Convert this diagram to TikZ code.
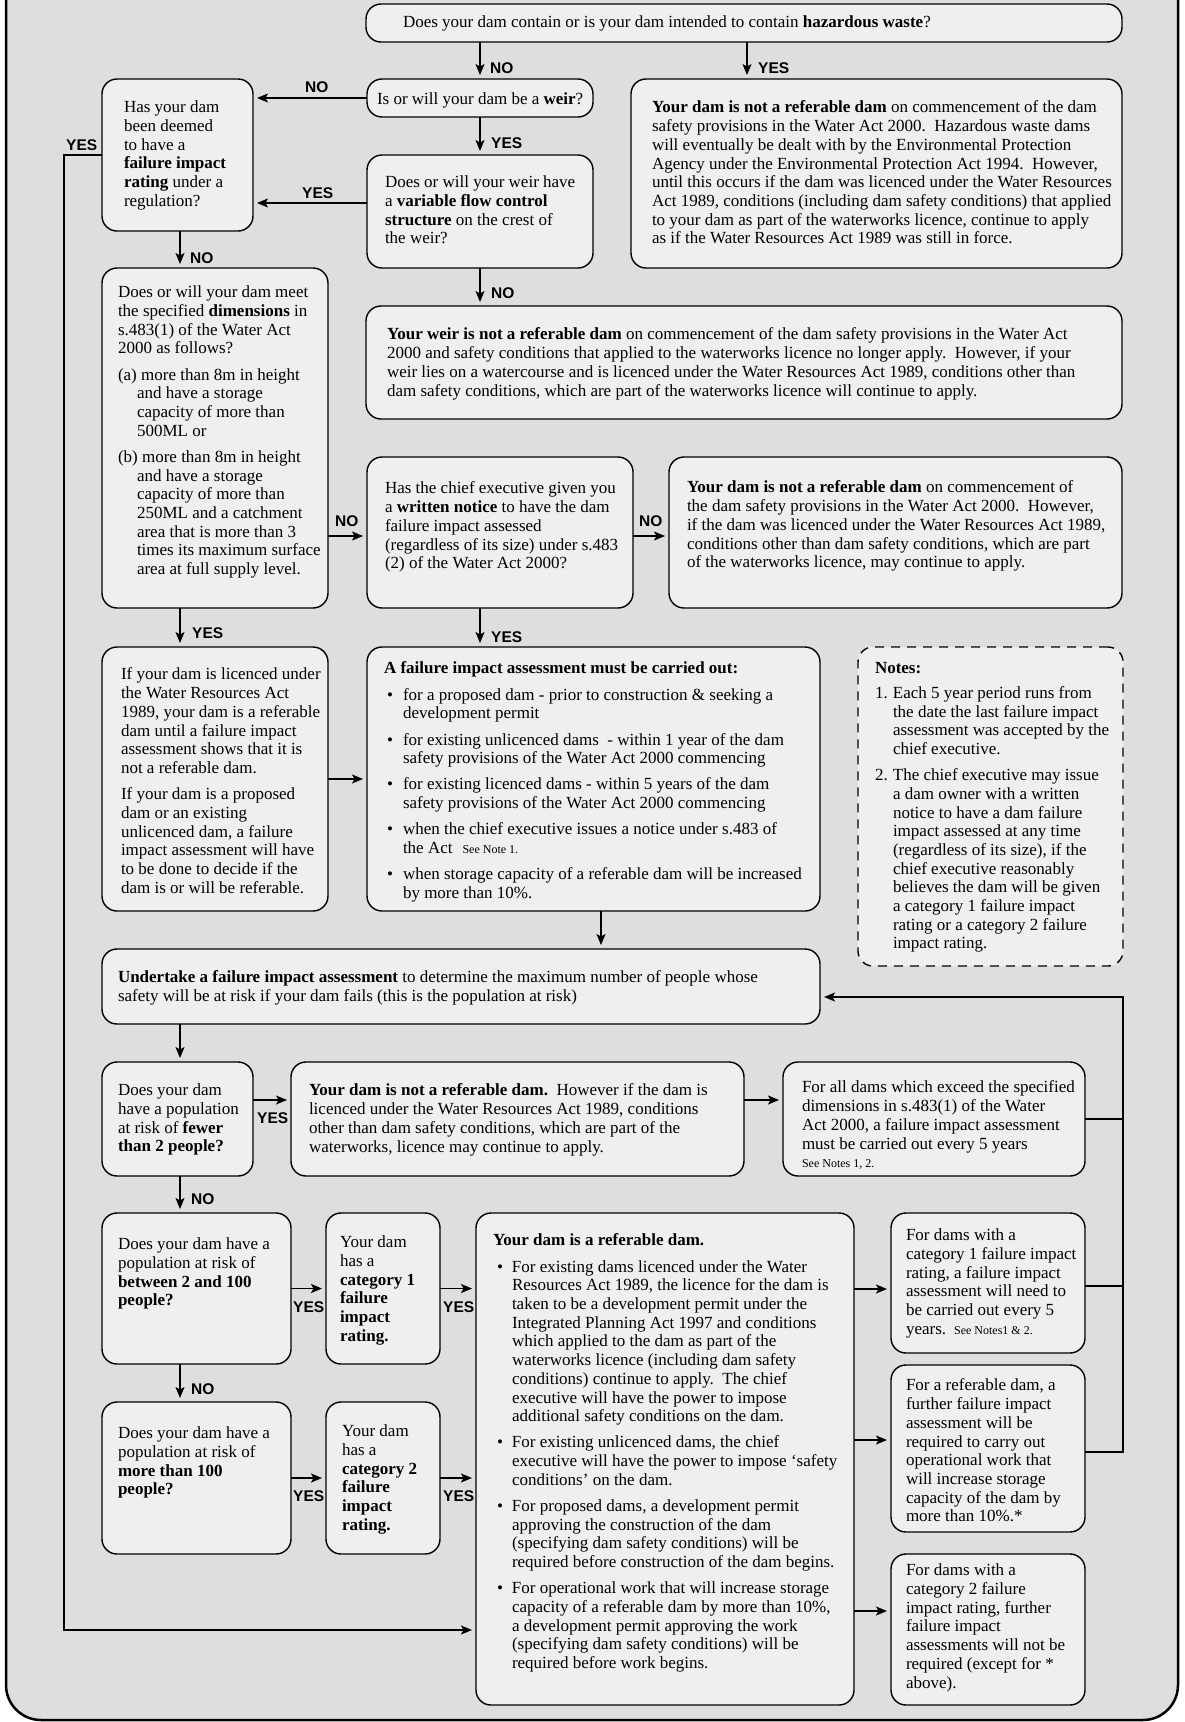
\documentclass[tikz,border=0pt]{standalone}
\usepackage{fontspec}
\setmainfont{Liberation Serif}
\newfontfamily\lblfont{Liberation Sans}
\usetikzlibrary{arrows.meta,calc}
\definecolor{bgray}{RGB}{222,222,222}
\definecolor{boxfill}{RGB}{239,239,239}
\tikzset{
  bx/.style={draw=black, line width=1.4pt, fill=boxfill, rounded corners=15pt, inner sep=0pt, outer sep=0pt},
  dbx/.style={bx, dash pattern=on 9pt off 7pt},
  txt/.style={anchor=north west, inner sep=0pt, outer sep=0pt, yshift=-2pt, align=left, font=\fontsize{17}{18.7}\selectfont},
  lbl/.style={anchor=west, inner sep=0pt, font=\lblfont\bfseries\fontsize{15.5}{16}\selectfont},
  arr/.style={line width=1.3pt, -{Stealth[length=11pt,width=9pt,inset=2.5pt]}, shorten >=4pt},
  ln/.style={line width=1.3pt},
}
\newcommand{\boxat}[6][bx]{\node[#1, minimum width={#5-#3}, minimum height={#6-#4}] (#2) at ({(#3+#5)/2},{(#4+#6)/2}) {};}
\newcommand{\sm}[1]{{\fontsize{12}{18.7}\selectfont #1}}
\newcommand{\bul}{\makebox[16pt][l]{\textbullet}}
\newcommand{\ind}{\hspace*{16pt}}
\begin{document}
\begin{tikzpicture}[x=1pt,y=-1pt]
\useasboundingbox (0,0) rectangle (1185,1722);
\clip (0,0) rectangle (1185,1722);
\fill[white] (0,0) rectangle (1185,1722);
\draw[line width=2.5pt, fill=bgray, rounded corners=35pt] (6,-80) rectangle (1178,1720);

% boxes
\boxat{top}{366}{4}{1122}{42}
\boxat{weir}{367}{79}{593}{117}
\boxat{has}{102}{79}{253}{231}
\boxat{vfc}{367}{155}{593}{268}
\boxat{haz}{631}{79}{1122}{268}
\boxat{weirnot}{366}{306}{1122}{419}
\boxat{dims}{102}{268}{328}{608}
\boxat{chief}{367}{457}{633}{608}
\boxat{notcomm}{669}{457}{1122}{608}
\boxat{ifyour}{102}{647}{328}{911}
\boxat{fia}{367}{647}{820}{911}
\boxat[dbx]{notes}{858}{647}{1123}{966}
\boxat{under}{102}{949}{820}{1024}
\boxat{fewer}{102}{1062}{253}{1176}
\boxat{notref}{291}{1062}{744}{1176}
\boxat{forall}{783}{1062}{1085}{1176}
\boxat{between}{102}{1213}{291}{1364}
\boxat{cat1}{326}{1213}{440}{1364}
\boxat{ref}{476}{1213}{854}{1705}
\boxat{more}{102}{1402}{291}{1554}
\boxat{cat2}{326}{1402}{440}{1554}
\boxat{cat1r}{891}{1213}{1085}{1353}
\boxat{refr}{891}{1365}{1085}{1532}
\boxat{cat2r}{891}{1554}{1085}{1705}

% texts
\node[txt] (top-t) at (403,14) {Does your dam contain or is your dam intended to contain \textbf{hazardous waste}?};
\node[txt] (weir-t) at (377,91) {Is or will your dam be a \textbf{weir}?};
\node[txt] (has-t) at (124,99) {Has your dam\\been deemed\\to have a\\\textbf{failure impact}\\\textbf{rating} under a\\regulation?};
\node[txt] (vfc-t) at (385,174) {Does or will your weir have\\a \textbf{variable flow control}\\\textbf{structure} on the crest of\\the weir?};
\node[txt] (haz-t) at (652,99) {\textbf{Your dam is not a referable dam} on commencement of the dam\\safety provisions in the Water Act 2000.\ \ Hazardous waste dams\\will eventually be dealt with by the Environmental Protection\\Agency under the Environmental Protection Act 1994.\ \ However,\\until this occurs if the dam was licenced under the Water Resources\\Act 1989, conditions (including dam safety conditions) that applied\\to your dam as part of the waterworks licence, continue to apply\\as if the Water Resources Act 1989 was still in force.};
\node[txt] (weirnot-t) at (387,326) {\textbf{Your weir is not a referable dam} on commencement of the dam safety provisions in the Water Act\\2000 and safety conditions that applied to the waterworks licence no longer apply.\ \ However, if your\\weir lies on a watercourse and is licenced under the Water Resources Act 1989, conditions other than\\dam safety conditions, which are part of the waterworks licence will continue to apply.};
\node[txt] (dims-t) at (118,284) {Does or will your dam meet\\the specified \textbf{dimensions} in\\s.483(1) of the Water Act\\2000 as follows?\\[7.5pt]
(a) more than 8m in height\\\hspace*{19pt}and have a storage\\\hspace*{19pt}capacity of more than\\\hspace*{19pt}500ML or\\[7.5pt]
(b) more than 8m in height\\\hspace*{19pt}and have a storage\\\hspace*{19pt}capacity of more than\\\hspace*{19pt}250ML and a catchment\\\hspace*{19pt}area that is more than 3\\\hspace*{19pt}times its maximum surface\\\hspace*{19pt}area at full supply level.};
\node[txt] (chief-t) at (385,480) {Has the chief executive given you\\a \textbf{written notice} to have the dam\\failure impact assessed\\(regardless of its size) under s.483\\(2) of the Water Act 2000?};
\node[txt] (notcomm-t) at (687,479) {\textbf{Your dam is not a referable dam} on commencement of\\the dam safety provisions in the Water Act 2000.\ \ However,\\if the dam was licenced under the Water Resources Act 1989,\\conditions other than dam safety conditions, which are part\\of the waterworks licence, may continue to apply.};
\node[txt] (ifyour-t) at (121,666) {If your dam is licenced under\\the Water Resources Act\\1989, your dam is a referable\\dam until a failure impact\\assessment shows that it is\\not a referable dam.\\[7.5pt]
If your dam is a proposed\\dam or an existing\\unlicenced dam, a failure\\impact assessment will have\\to be done to decide if the\\dam is or will be referable.};
\node[txt] (fia-t) at (384,660) {\textbf{A failure impact assessment must be carried out:}\\[7.5pt]
\hspace*{3pt}\bul for a proposed dam - prior to construction \& seeking a\\\hspace*{3pt}\ind development permit\\[7.5pt]
\hspace*{3pt}\bul for existing unlicenced dams\ \ - within 1 year of the dam\\\hspace*{3pt}\ind safety provisions of the Water Act 2000 commencing\\[7.5pt]
\hspace*{3pt}\bul for existing licenced dams - within 5 years of the dam\\\hspace*{3pt}\ind safety provisions of the Water Act 2000 commencing\\[7.5pt]
\hspace*{3pt}\bul when the chief executive issues a notice under s.483 of\\\hspace*{3pt}\ind the Act\hspace{10pt}\sm{See Note 1.}\\[7.5pt]
\hspace*{3pt}\bul when storage capacity of a referable dam will be increased\\\hspace*{3pt}\ind by more than 10\%.};
\node[txt] (notes-t) at (875,660) {\textbf{Notes:}\\[6.5pt]
\makebox[18pt][l]{1.}Each 5 year period runs from\\\hspace*{18pt}the date the last failure impact\\\hspace*{18pt}assessment was accepted by the\\\hspace*{18pt}chief executive.\\[7.5pt]
\makebox[18pt][l]{2.}The chief executive may issue\\\hspace*{18pt}a dam owner with a written\\\hspace*{18pt}notice to have a dam failure\\\hspace*{18pt}impact assessed at any time\\\hspace*{18pt}(regardless of its size), if the\\\hspace*{18pt}chief executive reasonably\\\hspace*{18pt}believes the dam will be given\\\hspace*{18pt}a category 1 failure impact\\\hspace*{18pt}rating or a category 2 failure\\\hspace*{18pt}impact rating.};
\node[txt] (under-t) at (118,969) {\textbf{Undertake a failure impact assessment} to determine the maximum number of people whose\\safety will be at risk if your dam fails (this is the population at risk)};
\node[txt] (fewer-t) at (118,1082) {Does your dam\\have a population\\at risk of \textbf{fewer}\\\textbf{than 2 people?}};
\node[txt] (notref-t) at (309,1082) {\textbf{Your dam is not a referable dam.}\ \ However if the dam is\\licenced under the Water Resources Act 1989, conditions\\other than dam safety conditions, which are part of the\\waterworks, licence may continue to apply.};
\node[txt] (forall-t) at (802,1079) {For all dams which exceed the specified\\dimensions in s.483(1) of the Water\\Act 2000, a failure impact assessment\\must be carried out every 5 years\\\sm{See Notes 1, 2.}};
\node[txt] (between-t) at (118,1236) {Does your dam have a\\population at risk of\\\textbf{between 2 and 100}\\\textbf{people?}};
\node[txt] (cat1-t) at (340,1234) {Your dam\\has a\\\textbf{category 1}\\\textbf{failure}\\\textbf{impact}\\\textbf{rating.}};
\node[txt] (more-t) at (118,1425) {Does your dam have a\\population at risk of\\\textbf{more than 100}\\\textbf{people?}};
\node[txt] (cat2-t) at (342,1423) {Your dam\\has a\\\textbf{category 2}\\\textbf{failure}\\\textbf{impact}\\\textbf{rating.}};
\node[txt] (ref-t) at (493,1232) {\textbf{Your dam is a referable dam.}\\[7.5pt]
\hspace*{4pt}\makebox[15pt][l]{\textbullet}For existing dams licenced under the Water\\\hspace*{19pt}Resources Act 1989, the licence for the dam is\\\hspace*{19pt}taken to be a development permit under the\\\hspace*{19pt}Integrated Planning Act 1997 and conditions\\\hspace*{19pt}which applied to the dam as part of the\\\hspace*{19pt}waterworks licence (including dam safety\\\hspace*{19pt}conditions) continue to apply.\ \ The chief\\\hspace*{19pt}executive will have the power to impose\\\hspace*{19pt}additional safety conditions on the dam.\\[7.5pt]
\hspace*{4pt}\makebox[15pt][l]{\textbullet}For existing unlicenced dams, the chief\\\hspace*{19pt}executive will have the power to impose ‘safety\\\hspace*{19pt}conditions’ on the dam.\\[7.5pt]
\hspace*{4pt}\makebox[15pt][l]{\textbullet}For proposed dams, a development permit\\\hspace*{19pt}approving the construction of the dam\\\hspace*{19pt}(specifying dam safety conditions) will be\\\hspace*{19pt}required before construction of the dam begins.\\[7.5pt]
\hspace*{4pt}\makebox[15pt][l]{\textbullet}For operational work that will increase storage\\\hspace*{19pt}capacity of a referable dam by more than 10\%,\\\hspace*{19pt}a development permit approving the work\\\hspace*{19pt}(specifying dam safety conditions) will be\\\hspace*{19pt}required before work begins.};
\node[txt] (cat1r-t) at (906,1227) {For dams with a\\category 1 failure impact\\rating, a failure impact\\assessment will need to\\be carried out every 5\\years.\hspace{8pt}\sm{See Notes1 \& 2.}};
\node[txt] (refr-t) at (906,1377) {For a referable dam, a\\further failure impact\\assessment will be\\required to carry out\\operational work that\\will increase storage\\capacity of the dam by\\more than 10\%.*};
\node[txt] (cat2r-t) at (906,1562) {For dams with a\\category 2 failure\\impact rating, further\\failure impact\\assessments will not be\\required (except for *\\above).};

% helper coordinates
\coordinate (xL) at (180,0);
\coordinate (xM) at (480,0);
\coordinate (xH) at (747,0);
\coordinate (xF) at (601,0);
\coordinate (xR) at (1123,0);
\coordinate (yesline) at (64,1630);
\coordinate (y203) at (0,203);
\coordinate (y536) at (0,536);
\coordinate (y997) at (0,997);
\coordinate (y1100) at (0,1100);
\coordinate (y1286) at (0,1286);
\coordinate (y1289) at (0,1289);
\coordinate (y1440) at (0,1440);
\coordinate (y1452) at (0,1452);
\coordinate (y1611) at (0,1611);

% connectors
\draw[arr] (xM |- top.south) -- (xM |- weir.north);
\draw[arr] (xH |- top.south) -- (xH |- haz.north);
\draw[arr] (weir.west) -- (weir.west -| has.east);
\draw[arr] (weir.south) -- (vfc.north);
\draw[arr] (vfc.west |- y203) -- (has.east |- y203);
\draw[arr] (xM |- vfc.south) -- (xM |- weirnot.north);
\draw[arr] (xL |- has.south) -- (xL |- dims.north);
\draw[arr] (has.west) -| (yesline) -- (yesline -| ref.west);
\draw[arr] (dims.east |- y536) -- (chief.west |- y536);
\draw[arr] (chief.east |- y536) -- (notcomm.west |- y536);
\draw[arr] (xL |- dims.south) -- (xL |- ifyour.north);
\draw[arr] (xM |- chief.south) -- (xM |- fia.north);
\draw[arr] (ifyour.east) -- (ifyour.east -| fia.west);
\draw[arr] (xF |- fia.south) -- (xF |- under.north);
\draw[arr] (xL |- under.south) -- (xL |- fewer.north);
\draw[arr] (fewer.east |- y1100) -- (notref.west |- y1100);
\draw[arr] (notref.east |- y1100) -- (forall.west |- y1100);
\draw[arr] (xL |- fewer.south) -- (xL |- between.north);
\draw[arr] (between.east) -- (cat1.west |- between.east);
\draw[arr] (cat1.east |- between.east) -- (ref.west |- between.east);
\draw[arr] (xL |- between.south) -- (xL |- more.north);
\draw[arr] (more.east) -- (cat2.west |- more.east);
\draw[arr] (cat2.east |- more.east) -- (ref.west |- more.east);
\draw[arr] (ref.east |- y1289) -- (cat1r.west |- y1289);
\draw[arr] (ref.east |- y1440) -- (refr.west |- y1440);
\draw[arr] (ref.east |- y1611) -- (cat2r.west |- y1611);
\draw[ln] (forall.east) -- (xR |- forall.east);
\draw[ln] (cat1r.east |- y1286) -- (xR |- y1286);
\draw[arr] (refr.east |- y1452) -| (xR |- y997) -- (under.east |- y997);

% labels
\node[lbl] (l1) at (490,68) {NO};
\node[lbl] (l2) at (758,68) {YES};
\node[lbl] (l3) at (305,87) {NO};
\node[lbl] (l4) at (66,145) {YES};
\node[lbl] (l5) at (491,143) {YES};
\node[lbl] (l6) at (302,193) {YES};
\node[lbl] (l7) at (491,293) {NO};
\node[lbl] (l8) at (190,258) {NO};
\node[lbl] (l9) at (335,521) {NO};
\node[lbl] (l10) at (639,521) {NO};
\node[lbl] (l11) at (192,633) {YES};
\node[lbl] (l12) at (491,637) {YES};
\node[lbl] (l13) at (257,1118) {YES};
\node[lbl] (l14) at (191,1199) {NO};
\node[lbl] (l15) at (293,1307) {YES};
\node[lbl] (l16) at (443,1307) {YES};
\node[lbl] (l17) at (191,1389) {NO};
\node[lbl] (l18) at (293,1496) {YES};
\node[lbl] (l19) at (443,1496) {YES};
\end{tikzpicture}
\end{document}
